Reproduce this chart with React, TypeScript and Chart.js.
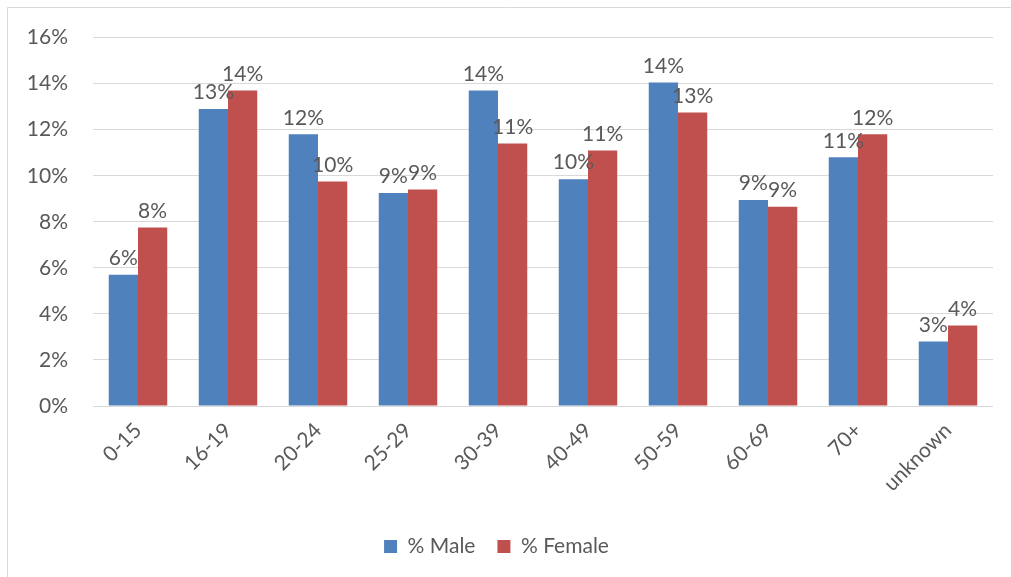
import React, { useEffect, useRef } from "react";
import { Chart, registerables } from "chart.js";

Chart.register(...registerables);

const categories = ["0-15", "16-19", "20-24", "25-29", "30-39", "40-49", "50-59", "60-69", "70+", "unknown"];
const maleValues = [5.7, 12.9, 11.8, 9.25, 13.7, 9.85, 14.05, 8.95, 10.8, 2.8];
const femaleValues = [7.75, 13.7, 9.75, 9.4, 11.4, 11.1, 12.75, 8.65, 11.8, 3.5];
const seriesNames = ["% Male", "% Female"];
const yTicks = [0, 2, 4, 6, 8, 10, 12, 14, 16];

const FONT = "Lato, 'Open Sans', sans-serif";
const TEXT = "#595959";

const frame = {
  id: "frame",
  beforeDraw(chart: any) {
    const ctx = chart.ctx;
    ctx.save();
    ctx.fillStyle = "#ffffff";
    ctx.fillRect(0, 0, chart.width, chart.height);
    ctx.strokeStyle = "#D9D9D9";
    ctx.lineWidth = 1;
    ctx.beginPath();
    ctx.moveTo(7.5, chart.height);
    ctx.lineTo(7.5, 7.5);
    ctx.lineTo(chart.width, 7.5);
    ctx.stroke();
    ctx.restore();
  },
};

const dataLabels = {
  id: "dataLabels",
  afterDatasetsDraw(chart: any) {
    const ctx = chart.ctx;
    ctx.save();
    ctx.font = `21px ${FONT}`;
    ctx.fillStyle = TEXT;
    ctx.textAlign = "center";
    ctx.textBaseline = "bottom";
    chart.data.datasets.forEach((ds: any, i: number) => {
      const meta = chart.getDatasetMeta(i);
      meta.data.forEach((bar: any, j: number) => {
        const v = ds.data[j];
        ctx.fillText(Math.round(v) + "%", bar.x, bar.y - 6);
      });
    });
    ctx.restore();
  },
};

export default function App() {
  const ref = useRef<HTMLCanvasElement | null>(null);
  useEffect(() => {
    if (!ref.current) return;
    const chart = new Chart(ref.current, {
      type: "bar",
      data: {
        labels: categories,
        datasets: [
          { label: seriesNames[0], data: maleValues, backgroundColor: "#4F81BD", barPercentage: 1, categoryPercentage: 0.65 },
          { label: seriesNames[1], data: femaleValues, backgroundColor: "#C0504D", barPercentage: 1, categoryPercentage: 0.65 },
        ],
      },
      options: {
        animation: false,
        responsive: false,
        layout: { padding: { left: 0, right: 18, top: 36, bottom: 10 } },
        plugins: {
          legend: {
            position: "bottom",
            labels: {
              boxWidth: 13,
              boxHeight: 13,
              padding: 22,
              color: TEXT,
              font: { family: FONT, size: 21 },
            },
          },
          tooltip: { enabled: false },
        },
        scales: {
          x: {
            grid: { display: false },
            border: { display: false },
            ticks: {
              color: TEXT,
              font: { family: FONT, size: 21 },
              minRotation: 45,
              maxRotation: 45,
              padding: 4,
            },
            afterFit(scale: any) {
              scale.height = 108;
            },
          },
          y: {
            min: 0,
            max: 16,
            afterBuildTicks(scale: any) {
              scale.ticks = yTicks.map((v) => ({ value: v }));
            },
            grid: { color: "#D9D9D9", drawTicks: false },
            border: { display: false },
            ticks: {
              color: TEXT,
              font: { family: FONT, size: 21 },
              padding: 25,
              callback: (v: any) => v + "%",
            },
            afterFit(scale: any) {
              scale.width = 93;
            },
          },
        },
      },
      plugins: [frame, dataLabels],
    });
    return () => chart.destroy();
  }, []);
  return (
    <div style={{ position: "fixed", left: 0, top: 0, width: 1011, height: 577, background: "#fff" }}>
      <canvas ref={ref} width={1011} height={577} style={{ display: "block" }} />
    </div>
  );
}
